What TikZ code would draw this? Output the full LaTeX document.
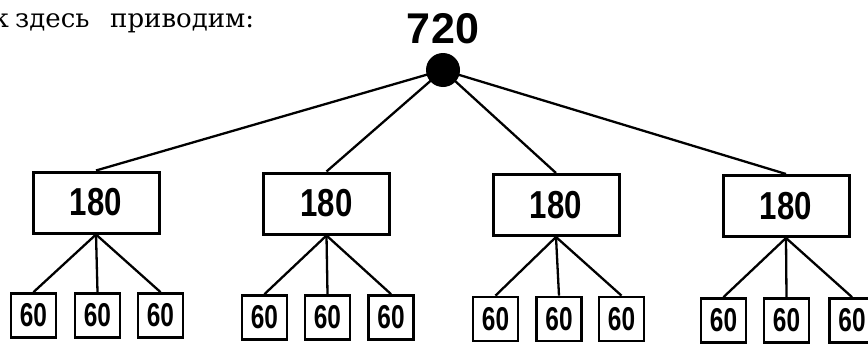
\documentclass[tikz,border=0pt]{standalone}
\usepackage{fontspec}
\setmainfont{DejaVu Serif}
\newfontfamily\bignum[FakeStretch=0.80]{Liberation Sans}
\newfontfamily\smallnum[FakeStretch=0.74]{Liberation Sans}
\newfontfamily\topnum{Liberation Sans}
\begin{document}
\begin{tikzpicture}[x=1pt,y=-1pt,
  bigbox/.style={draw, line width=3pt, minimum width=126pt, minimum height=61pt, inner sep=0pt,
    font=\bignum\bfseries\fontsize{39}{39}\selectfont},
  smallbox/.style={draw, line width=2.8pt, minimum width=45pt, minimum height=44pt, inner sep=0pt,
    font=\smallnum\bfseries\fontsize{33}{33}\selectfont},
  conn/.style={line width=2.3pt},
  txt/.style={inner sep=0pt, font=\fontsize{26}{26}\selectfont}
]
\useasboundingbox (0,0) rectangle (868,343);
\fill[white] (0,0) rectangle (868,343);

% header text
\node[txt, anchor=base east] (t0) at (9,27) {к};
\node[txt, anchor=base west] (t1) at (15,27) {здесь};
\node[txt, anchor=base west] (t2) at (110,27) {приводим:};

% root
\node[anchor=base, inner sep=0pt, font=\topnum\bfseries\fontsize{43}{43}\selectfont] (lbl) at (443,43) {7\kern1pt2\kern1pt0};
\node[circle, fill=black, minimum size=34pt, inner sep=0pt] (root) at (443,70) {};

% level 1
\node[bigbox] (b1) at (96,202.5) {180};
\node[bigbox] (b2) at (326.5,203.5) {180};
\node[bigbox] (b3) at (556,205) {180};
\node[bigbox] (b4) at (786,206) {180};

% level 2
\node[smallbox] (c11) at (33.5,315.5) {60};
\node[smallbox] (c12) at (97.5,315.5) {60};
\node[smallbox] (c13) at (160.5,315.5) {60};
\node[smallbox] (c21) at (264.5,317.5) {60};
\node[smallbox] (c22) at (327.5,317.5) {60};
\node[smallbox] (c23) at (391,317.5) {60};
\node[smallbox] (c31) at (495.5,319) {60};
\node[smallbox] (c32) at (559,319) {60};
\node[smallbox] (c33) at (621.5,319) {60};
\node[smallbox] (c41) at (723.5,320.5) {60};
\node[smallbox] (c42) at (786.5,320.5) {60};
\node[smallbox] (c43) at (852,320.5) {60};

% connectors
\foreach \b in {b1,b2,b3,b4} \draw[conn] (root.center) -- (\b.north);
\foreach \i in {1,2,3,4}
  \foreach \j in {1,2,3}
    \draw[conn] (b\i.south) -- (c\i\j.north);
\end{tikzpicture}
\end{document}
